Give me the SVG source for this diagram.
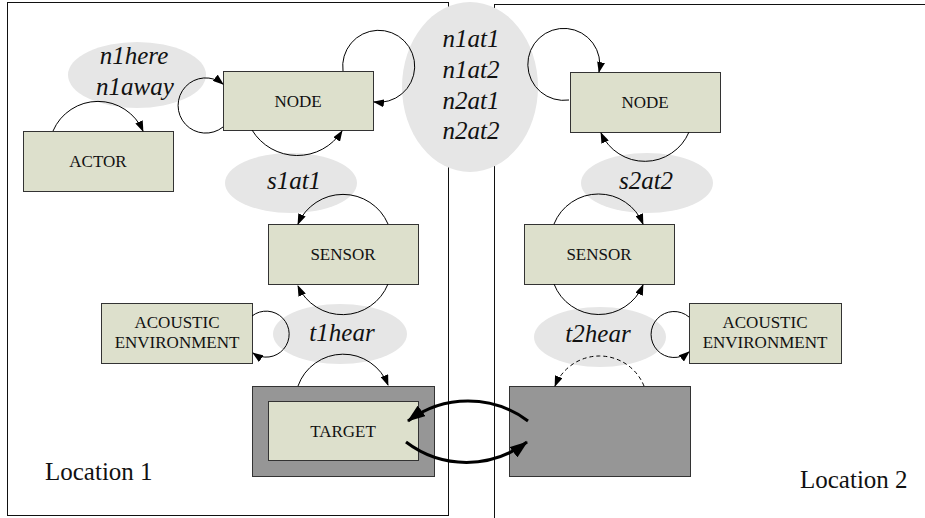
<svg xmlns="http://www.w3.org/2000/svg" width="925" height="518" viewBox="0 0 925 518" font-family="'Liberation Serif', serif">
<defs>
<marker id="ah" markerUnits="userSpaceOnUse" markerWidth="11" markerHeight="8" refX="10" refY="4" orient="auto"><path d="M0,0 L11,4 L0,8 z" fill="#000"/></marker>
<marker id="ahb" markerUnits="userSpaceOnUse" markerWidth="18" markerHeight="13" refX="17" refY="6.5" orient="auto"><path d="M0,0 L18,6.5 L0,13 z" fill="#000"/></marker>
<style>
.frame{fill:none;stroke:#111;stroke-width:1}
.box{fill:#dde0cc;stroke:#333;stroke-width:1}
.gbox{fill:#969696;stroke:#333;stroke-width:1}
.ell{fill:#e6e6e6;stroke:none}
.bt{font-size:17px;text-anchor:middle;fill:#111}
.it{font-size:25px;font-style:italic;text-anchor:middle;fill:#111}
.loc{font-size:25px;fill:#111}
.c{fill:none;stroke:#000;stroke-width:1;marker-end:url(#ah)}
.cd{fill:none;stroke:#000;stroke-width:1;stroke-dasharray:4,3;marker-end:url(#ah)}
.cb{fill:none;stroke:#000;stroke-width:3;marker-end:url(#ahb)}
</style>
</defs>
<g id="frames">
<rect class="frame" x="7.5" y="2.5" width="441" height="513"/>
<rect class="frame" x="494.5" y="4.5" width="440" height="520"/>
</g>
<g id="labels" font-family="'Liberation Serif', serif">
<ellipse class="ell" cx="137" cy="75" rx="69" ry="33"/>
<text class="it" x="134" y="64">n1here</text>
<text class="it" x="135" y="95">n1away</text>
<ellipse class="ell" cx="470" cy="87" rx="68" ry="85"/>
<text class="it" x="471" y="47">n1at1</text>
<text class="it" x="471" y="78">n1at2</text>
<text class="it" x="471" y="109">n2at1</text>
<text class="it" x="471" y="139">n2at2</text>
<ellipse class="ell" cx="291" cy="183" rx="66" ry="30"/>
<text class="it" x="294" y="189">s1at1</text>
<ellipse class="ell" cx="647" cy="183" rx="66" ry="30"/>
<text class="it" x="646" y="189">s2at2</text>
<ellipse class="ell" cx="340" cy="334" rx="67" ry="30"/>
<text class="it" x="342" y="341">t1hear</text>
<ellipse class="ell" cx="600" cy="337" rx="66" ry="30"/>
<text class="it" x="598" y="342">t2hear</text>
<text class="loc" x="45" y="480">Location 1</text>
<text class="loc" x="800" y="488">Location 2</text>
</g>
<g id="node1" font-family="'Liberation Serif', serif"><rect class="box" x="223.5" y="71.5" width="150" height="59"/><text class="bt" x="298" y="107">NODE</text></g>
<g id="actor" font-family="'Liberation Serif', serif"><rect class="box" x="23.5" y="131.5" width="150" height="60"/><text class="bt" x="98" y="167">ACTOR</text></g>
<g id="sensor1" font-family="'Liberation Serif', serif"><rect class="box" x="268.5" y="224.5" width="150" height="60"/><text class="bt" x="343" y="260">SENSOR</text></g>
<g id="acoustic1" font-family="'Liberation Serif', serif"><rect class="box" x="101.5" y="303.5" width="151" height="60"/><text class="bt" x="177" y="328">ACOUSTIC</text><text class="bt" x="177" y="348">ENVIRONMENT</text></g>
<g id="target1" font-family="'Liberation Serif', serif"><rect class="gbox" x="252.5" y="386.5" width="182" height="90"/><rect class="box" x="268.5" y="401.5" width="150" height="59"/><text class="bt" x="343" y="437">TARGET</text></g>
<g id="node2" font-family="'Liberation Serif', serif"><rect class="box" x="570.5" y="72.5" width="150" height="60"/><text class="bt" x="645" y="108">NODE</text></g>
<g id="sensor2" font-family="'Liberation Serif', serif"><rect class="box" x="524.5" y="224.5" width="150" height="60"/><text class="bt" x="599" y="260">SENSOR</text></g>
<g id="acoustic2" font-family="'Liberation Serif', serif"><rect class="box" x="689.5" y="303.5" width="152" height="60"/><text class="bt" x="765" y="328">ACOUSTIC</text><text class="bt" x="765" y="348">ENVIRONMENT</text></g>
<g id="target2"><rect class="gbox" x="509.5" y="386.5" width="181" height="90"/></g>
<g id="connectors">
<path class="c" d="M53 131 A49 49 0 0 1 143 131"/>
<path class="c" d="M223 127 A27.6 27.6 0 1 1 223 84"/>
<path class="c" d="M343 71 A36 36 0 1 1 374 102"/>
<path class="c" d="M252 130 A53 53 0 0 0 342 131"/>
<path class="c" d="M388 224 A49 49 0 0 0 298 224"/>
<path class="c" d="M388 284 A49 49 0 0 1 298 286"/>
<path class="c" d="M252 316 A23 23 0 1 1 253 353"/>
<path class="c" d="M298 386 A48 48 0 0 1 388 385"/>
<path class="c" d="M569 100 A36 36 0 1 1 599 72"/>
<path class="c" d="M689 132 A48 48 0 0 1 601 133"/>
<path class="c" d="M554 224 A48 48 0 0 1 643 224"/>
<path class="c" d="M554 284 A48 48 0 0 0 643 285"/>
<path class="c" d="M689 317 A23 23 0 1 0 689 352"/>
<path class="cd" d="M644 386 A48 48 0 0 0 555 386"/>
<path class="cb" d="M528 421 A100 100 0 0 0 408 421"/>
<path class="cb" d="M406 442 A100 100 0 0 0 527 442"/>
</g>
</svg>
